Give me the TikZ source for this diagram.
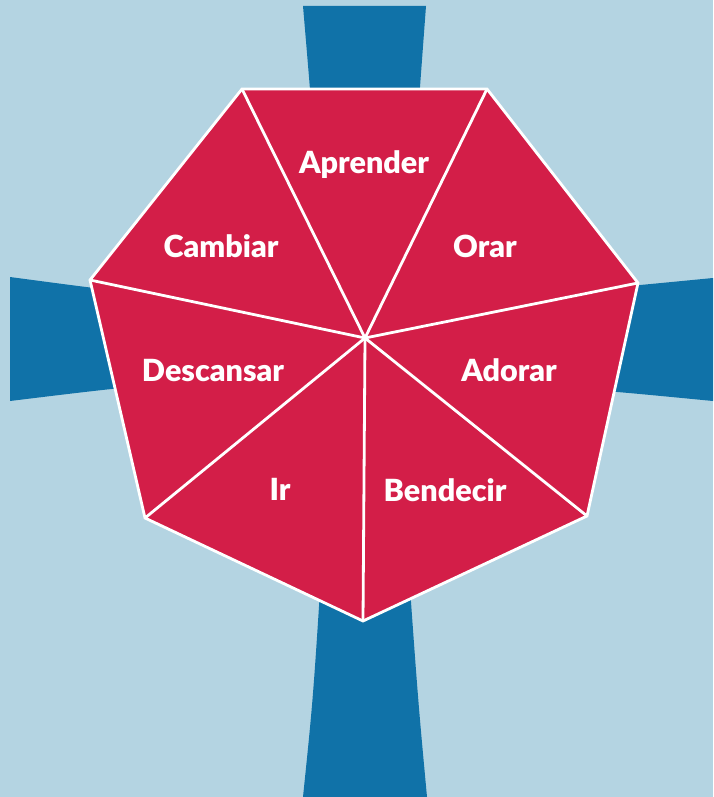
\documentclass[tikz,border=0pt]{standalone}
\usepackage{fontspec}
\setmainfont{Lato}
\newfontfamily\heavyfont{Lato Black}

\definecolor{sky}{RGB}{180,212,226}
\definecolor{crossblue}{RGB}{16,114,168}
\definecolor{crimson}{RGB}{211,30,72}

\begin{document}
\begin{tikzpicture}[x=1pt, y=-1pt,
    word/.style = {text = white, font = \heavyfont\fontsize{30.5}{30.5}\selectfont},
    spoke/.style = {draw = white, line width = 2.8pt, line cap = round}]

    % Background fixes the page size
    \fill [sky] (0,0) rectangle (713,797);
    \useasboundingbox (0,0) rectangle (713,797);

    % The four arms of the cross (slightly flared ends)
    \fill [crossblue] (303,6) -- (426,6) .. controls (419,100) .. (412,200)
        -- (318,200) .. controls (311,100) .. (303,6);
    \fill [crossblue] (10,277) .. controls (100,289) .. (200,300)
        -- (200,380) .. controls (100,390) .. (10,401) -- cycle;
    \fill [crossblue] (713,278) -- (713,401) .. controls (620,392) .. (530,385)
        -- (530,295) .. controls (620,287) .. (713,278);
    \fill [crossblue] (303,797) .. controls (313,700) .. (322,560)
        -- (408,560) .. controls (418,700) .. (427,797) -- cycle;

    % Corners of the heptagon and its centre
    \coordinate (c) at (365,338);
    \coordinate (v1) at (242,89);
    \coordinate (v2) at (487,89);
    \coordinate (v3) at (638,283);
    \coordinate (v4) at (587,516);
    \coordinate (v5) at (363,621);
    \coordinate (v6) at (145,518);
    \coordinate (v7) at (90,280);

    % Heptagon, filled and outlined
    \fill [crimson] (v1) -- (v2) -- (v3) -- (v4) -- (v5) -- (v6) -- (v7) -- cycle;
    \draw [spoke, line join = round] (v1) -- (v2) -- (v3) -- (v4) -- (v5) -- (v6) -- (v7) -- cycle;

    % Spokes from the centre to every corner
    \foreach \i in {1,...,7} {
        \draw [spoke] (c) -- (v\i);
    }

    % One word in every triangle
    \node [word] (aprender)  at (364,165) {Aprender};
    \node [word] (orar)      at (485,246) {Orar};
    \node [word] (adorar)    at (509,370) {Adorar};
    \node [word] (bendecir)  at (445,490) {Bendecir};
    \node [word] (ir)        at (280,489) {Ir};
    \node [word] (descansar) at (213,371) {Descansar};
    \node [word] (cambiar)   at (221,246) {Cambiar};
\end{tikzpicture}
\end{document}
